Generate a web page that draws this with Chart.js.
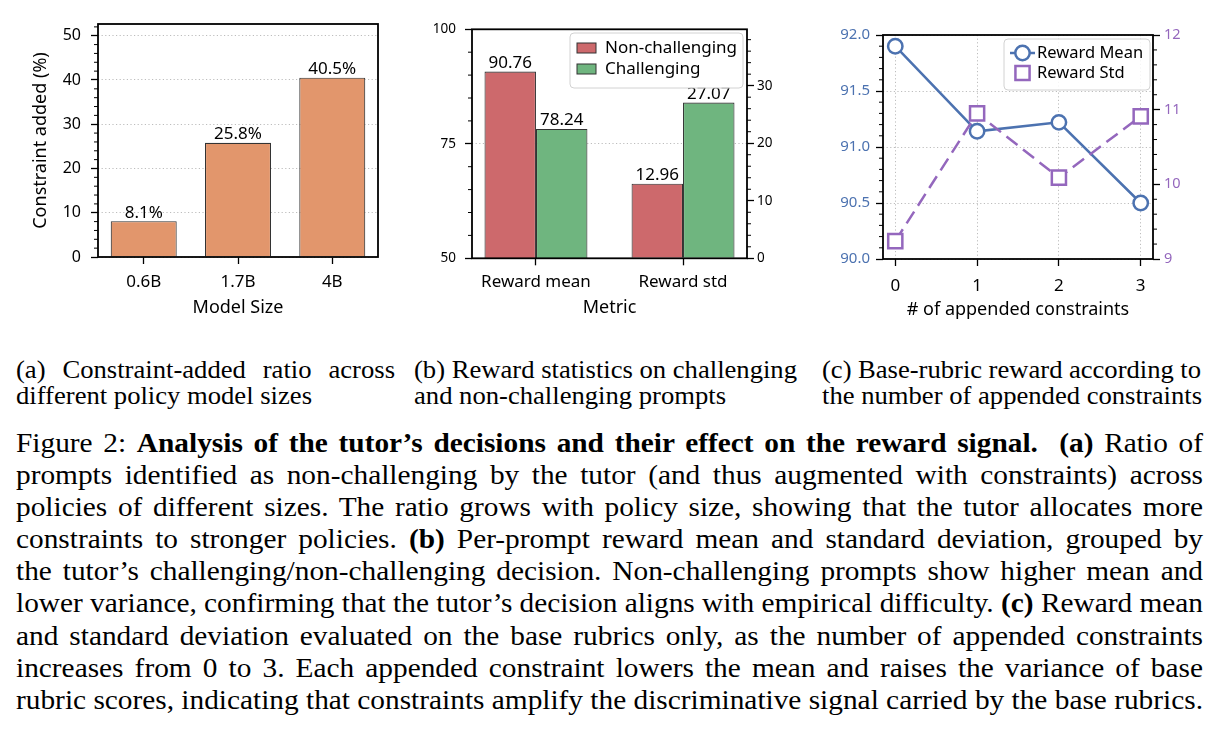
<!DOCTYPE html>
<html><head><meta charset="utf-8">
<script src="https://cdn.jsdelivr.net/npm/chart.js@4.4.1/dist/chart.umd.min.js"></script>
<style>
html,body{margin:0;padding:0;background:#fff;}
body{width:1220px;height:742px;position:relative;overflow:hidden;}
canvas{position:absolute;}
.ln{position:absolute;white-space:nowrap;font-family:"Liberation Serif","Times New Roman",serif;color:#000;line-height:1;transform-origin:0 0;}
.ln b{font-weight:bold;}
</style></head>
<body>
<canvas id="chartA" width="400" height="330" style="left:0;top:0"></canvas>
<canvas id="chartB" width="400" height="330" style="left:400px;top:0"></canvas>
<canvas id="chartC" width="420" height="330" style="left:800px;top:0"></canvas>
<div id="caps"></div>
<script>
// ---------------- data ----------------
const sizeLabels = ['0.6B', '1.7B', '4B'];
const constraintPct = [8.1, 25.8, 40.5];

const metricLabels = ['Reward mean', 'Reward std'];
const nonChallenging = [90.76, 12.96];
const challenging = [78.24, 27.07];

const appended = [0, 1, 2, 3];
const rewardMean = [91.90, 91.14, 91.22, 90.50];
const rewardStd = [9.24, 10.95, 10.09, 10.91];

// ---------------- styles ----------------
const ORANGE = '#E2966C', RED = '#CD696C', GREEN = '#6FB57F', EDGE = '#333333';
const BLUE = '#4C72B0', PURPLE = '#9467BD', GRID = '#b5b5b5';
const DOT = [1.2, 2.4];

Chart.defaults.font.family = "'Noto Sans', sans-serif";
Chart.defaults.color = '#000';

// ---------------- plugins ----------------
function makeFrame() {
  return { id: 'frame', afterDatasetsDraw(chart) {
    const { ctx, chartArea: a } = chart;
    ctx.save(); ctx.strokeStyle = '#000'; ctx.lineWidth = 1.8; ctx.setLineDash([]);
    ctx.strokeRect(a.left, a.top, a.right - a.left, a.bottom - a.top);
    ctx.restore();
  }};
}
function makeMinor(list) {
  return { id: 'minorTicks', afterDraw(chart) {
    const { ctx, chartArea: a } = chart;
    ctx.save(); ctx.strokeStyle = '#000'; ctx.lineWidth = 1; ctx.setLineDash([]);
    list.forEach(m => {
      const s = chart.scales[m.axis];
      const majors = s.ticks.map(t => t.value);
      const k0 = Math.ceil(s.min / m.step - 1e-6), k1 = Math.floor(s.max / m.step + 1e-6);
      for (let k = k0; k <= k1; k++) {
        const v = k * m.step;
        if (majors.some(t => Math.abs(t - v) < m.step * 1e-3)) continue;
        const p = s.getPixelForValue(v);
        ctx.beginPath();
        if (s.position === 'left') { ctx.moveTo(a.left, p); ctx.lineTo(a.left - 4, p); }
        else { ctx.moveTo(a.right, p); ctx.lineTo(a.right + 4, p); }
        ctx.stroke();
      }
    });
    ctx.restore();
  }};
}
function makeBarValues(decimals, suffix) {
  return { id: 'barValues', afterDatasetsDraw(chart) {
    const ctx = chart.ctx;
    ctx.save(); ctx.fillStyle = '#000'; ctx.font = "17px 'Noto Sans'";
    ctx.textAlign = 'center'; ctx.textBaseline = 'alphabetic';
    chart.data.datasets.forEach((ds, di) => {
      const meta = chart.getDatasetMeta(di);
      meta.data.forEach((el, i) => {
        const v = ds.data[i].y;
        if (v === null || v === undefined) return;
        ctx.fillText(v.toFixed(decimals) + suffix, el.x, el.y - 3.5);
      });
    });
    ctx.restore();
  }};
}
function rr(ctx, x, y, w, h, r) {
  ctx.beginPath();
  ctx.moveTo(x + r, y); ctx.lineTo(x + w - r, y); ctx.arcTo(x + w, y, x + w, y + r, r);
  ctx.lineTo(x + w, y + h - r); ctx.arcTo(x + w, y + h, x + w - r, y + h, r);
  ctx.lineTo(x + r, y + h); ctx.arcTo(x, y + h, x, y + h - r, r);
  ctx.lineTo(x, y + r); ctx.arcTo(x, y, x + r, y, r); ctx.closePath();
}
function makeLegend(o) {
  return { id: 'boxLegend', afterDraw(chart) {
    const { ctx, chartArea: a } = chart;
    const x = a.right - o.insetR - o.width, y = a.top + o.insetT;
    ctx.save(); ctx.setLineDash([]);
    rr(ctx, x, y, o.width, o.height, 4);
    ctx.fillStyle = 'rgba(255,255,255,0.85)'; ctx.fill();
    ctx.strokeStyle = '#d2d2d2'; ctx.lineWidth = 1; ctx.stroke();
    o.datasets.forEach((di, i) => {
      const ds = chart.data.datasets[di];
      const cy = y + o.firstRow + i * o.rowGap;
      if (o.kind === 'patch') {
        ctx.fillStyle = ds.backgroundColor; ctx.fillRect(x + 7, cy - 5, 19, 10);
        ctx.strokeStyle = ds.borderColor; ctx.lineWidth = 1; ctx.strokeRect(x + 7, cy - 5, 19, 10);
      } else {
        if (!ds.borderDash || ds.borderDash.length === 0) {
          ctx.strokeStyle = ds.borderColor; ctx.lineWidth = ds.borderWidth;
          ctx.beginPath(); ctx.moveTo(x + 6, cy); ctx.lineTo(x + 31, cy); ctx.stroke();
        }
        const mx = x + 18.5;
        ctx.fillStyle = '#fff'; ctx.strokeStyle = ds.pointBorderColor; ctx.lineWidth = ds.pointBorderWidth;
        ctx.beginPath();
        if (ds.pointStyle === 'rect') { const s = Math.SQRT1_2 * ds.pointRadius; ctx.rect(mx - s, cy - s, 2 * s, 2 * s); }
        else ctx.arc(mx, cy, ds.pointRadius, 0, Math.PI * 2);
        ctx.fill(); ctx.stroke();
      }
      ctx.fillStyle = '#000'; ctx.font = o.fontSize + "px 'Noto Sans'";
      ctx.textAlign = 'left'; ctx.textBaseline = 'middle';
      ctx.fillText(ds.label, x + o.textX, cy + 0.5);
    });
    ctx.restore();
  }};
}
const tickGrid = { tickLength: 7, tickColor: '#000', tickWidth: 1.3, offset: false };

// ---------------- chart (a) ----------------
new Chart(document.getElementById('chartA'), {
  type: 'bar',
  data: { datasets: [{
    label: 'Constraint added',
    data: sizeLabels.map((l, i) => ({ x: i, y: constraintPct[i] })),
    backgroundColor: ORANGE, borderColor: EDGE, borderWidth: 1.1,
    categoryPercentage: 1, barPercentage: 0.7 }] },
  options: {
    responsive: false, animation: false,
    layout: { padding: { top: 24, right: 22, left: 0, bottom: 0 } },
    plugins: { legend: { display: false }, tooltip: { enabled: false } },
    scales: {
      x: { type: 'linear', offset: false, min: -0.485, max: 2.485, afterFit: s => { s.height = 73; },
        ticks: { stepSize: 1, includeBounds: false, autoSkip: false, maxRotation: 0, padding: 7.5,
          font: { size: 17 }, callback: v => sizeLabels[v] ?? '' },
        grid: Object.assign({ drawOnChartArea: false }, tickGrid),
        border: { display: false },
        title: { display: true, text: 'Model Size', font: { size: 18 }, padding: { top: 0, bottom: 11 } } },
      y: { min: 0, max: 52.65, afterFit: s => { s.width = 98; },
        ticks: { stepSize: 10, includeBounds: false, padding: 10, font: { size: 16 } },
        grid: Object.assign({ color: GRID, lineWidth: 0.9 }, tickGrid),
        border: { display: false, dash: DOT },
        title: { display: true, text: 'Constraint added (%)', font: { size: 18 }, padding: { top: 30, bottom: 0 } } }
    }
  },
  plugins: [makeMinor([{ axis: 'y', step: 2 }]), makeFrame(), makeBarValues(1, '%')]
});

// ---------------- chart (b) ----------------
const bSeries = [
  { label: 'Non-challenging', vals: nonChallenging, color: RED },
  { label: 'Challenging', vals: challenging, color: GREEN }
];
const bDatasets = [];
metricLabels.forEach((m, mi) => {
  bSeries.forEach(s => {
    bDatasets.push({
      label: s.label,
      data: metricLabels.map((_, i) => ({ x: i, y: i === mi ? s.vals[i] : null })),
      yAxisID: mi === 0 ? 'y' : 'y2',
      backgroundColor: s.color, borderColor: EDGE, borderWidth: 1.1,
      categoryPercentage: 0.7, barPercentage: 1, skipNull: true
    });
  });
});
new Chart(document.getElementById('chartB'), {
  type: 'bar',
  data: { datasets: bDatasets },
  options: {
    responsive: false, animation: false,
    layout: { padding: { top: 29.3, right: 0, left: 0, bottom: 0 } },
    plugins: { legend: { display: false }, tooltip: { enabled: false } },
    scales: {
      x: { type: 'linear', offset: false, min: -0.435, max: 1.435, afterFit: s => { s.height = 71.7; },
        ticks: { stepSize: 1, includeBounds: false, autoSkip: false, maxRotation: 0, padding: 6.5,
          font: { size: 17 }, callback: v => metricLabels[v] ?? '' },
        grid: Object.assign({ drawOnChartArea: false }, tickGrid),
        border: { display: false },
        title: { display: true, text: 'Metric', font: { size: 18 }, padding: { top: 0, bottom: 11 } } },
      y: { position: 'left', min: 50, max: 100, afterFit: s => { s.width = 72; },
        ticks: { stepSize: 25, includeBounds: false, padding: 9, font: { size: 13.5 } },
        grid: Object.assign({ color: GRID, lineWidth: 0.9 }, tickGrid),
        border: { display: false, dash: DOT } },
      y2: { position: 'right', min: 0, max: 39.8, afterFit: s => { s.width = 53; },
        ticks: { stepSize: 10, includeBounds: false, padding: 3, font: { size: 13.5 } },
        grid: Object.assign({ drawOnChartArea: false }, tickGrid),
        border: { display: false } }
    }
  },
  plugins: [makeMinor([{ axis: 'y', step: 5 }, { axis: 'y2', step: 2 }]), makeFrame(), makeBarValues(2, ''),
    makeLegend({ kind: 'patch', datasets: [0, 1], width: 173, height: 55, insetR: 4, insetT: 3.7,
      firstRow: 15, rowGap: 21, textX: 35, fontSize: 17 })]
});

// ---------------- chart (c) ----------------
new Chart(document.getElementById('chartC'), {
  type: 'line',
  data: { datasets: [
    { label: 'Reward Mean', data: appended.map((x, i) => ({ x: x, y: rewardMean[i] })), yAxisID: 'y',
      borderColor: BLUE, borderWidth: 2.5, tension: 0, pointStyle: 'circle', pointRadius: 7.2,
      pointBackgroundColor: '#fff', pointBorderColor: BLUE, pointBorderWidth: 2.5, order: 1 },
    { label: 'Reward Std', data: appended.map((x, i) => ({ x: x, y: rewardStd[i] })), yAxisID: 'y2',
      borderColor: PURPLE, borderWidth: 2.5, borderDash: [14, 7], tension: 0, pointStyle: 'rect', pointRadius: 10,
      pointBackgroundColor: '#fff', pointBorderColor: PURPLE, pointBorderWidth: 2.5, order: 0 }
  ] },
  options: {
    responsive: false, animation: false,
    layout: { padding: { top: 35, right: 0, left: 0, bottom: 0 } },
    plugins: { legend: { display: false }, tooltip: { enabled: false } },
    scales: {
      x: { type: 'linear', offset: false, min: -0.15, max: 3.15, afterFit: s => { s.height = 71; },
        ticks: { stepSize: 1, includeBounds: false, autoSkip: false, maxRotation: 0, padding: 9.5, font: { size: 17 } },
        grid: Object.assign({ color: GRID, lineWidth: 0.9 }, tickGrid),
        border: { display: false, dash: DOT },
        title: { display: true, text: '# of appended constraints', font: { size: 18 }, padding: { top: 0, bottom: 9 } } },
      y: { position: 'left', min: 90, max: 92, afterFit: s => { s.width = 83; },
        ticks: { stepSize: 0.5, includeBounds: false, padding: 6, color: BLUE, font: { size: 15 }, callback: v => v.toFixed(1) },
        grid: Object.assign({ color: GRID, lineWidth: 0.9 }, tickGrid),
        border: { display: false, dash: DOT } },
      y2: { position: 'right', min: 9, max: 12, afterFit: s => { s.width = 67; },
        ticks: { stepSize: 1, includeBounds: false, padding: 4, color: PURPLE, font: { size: 14.5 } },
        grid: Object.assign({ drawOnChartArea: false }, tickGrid),
        border: { display: false } }
    }
  },
  plugins: [makeMinor([{ axis: 'y', step: 0.1 }, { axis: 'y2', step: 0.2 }]), makeFrame(),
    makeLegend({ kind: 'line', datasets: [0, 1], width: 146, height: 51, insetR: 3, insetT: 4,
      firstRow: 14, rowGap: 20, textX: 33, fontSize: 16.5 })]
});

// ---------------- captions ----------------
const captionBlocks = [
  { key: 'sub', left: 16, size: 25, lead: 25.5, base: 378, lines: [
    { h: '(a) Constraint-added ratio across', w: 379 },
    { h: 'different policy model sizes', ref: 296 } ] },
  { key: 'sub', left: 414, size: 25, lead: 25.5, base: 378, lines: [
    { h: '(b) Reward statistics on challenging', w: 383 },
    { h: 'and non-challenging prompts' } ] },
  { key: 'sub', left: 822, size: 25, lead: 25.5, base: 378, lines: [
    { h: '(c) Base-rubric reward according to', w: 379 },
    { h: 'the number of appended constraints' } ] },
  { key: 'main', left: 16, size: 26.5, lead: 32.12, base: 452, lines: [
    { h: 'Figure 2: <b>Analysis of the tutor’s decisions and their effect on the reward signal.</b>&nbsp; <b>(a)</b> Ratio of', w: 1187 },
    { h: 'prompts identified as non-challenging by the tutor (and thus augmented with constraints) across', w: 1187 },
    { h: 'policies of different sizes. The ratio grows with policy size, showing that the tutor allocates more', w: 1187 },
    { h: 'constraints to stronger policies. <b>(b)</b> Per-prompt reward mean and standard deviation, grouped by', w: 1187 },
    { h: 'the tutor’s challenging/non-challenging decision. Non-challenging prompts show higher mean and', w: 1187 },
    { h: 'lower variance, confirming that the tutor’s decision aligns with empirical difficulty. <b>(c)</b> Reward mean', w: 1187 },
    { h: 'and standard deviation evaluated on the base rubrics only, as the number of appended constraints', w: 1187 },
    { h: 'increases from 0 to 3. Each appended constraint lowers the mean and raises the variance of base', w: 1187 },
    { h: 'rubric scores, indicating that constraints amplify the discriminative signal carried by the base rubrics.', ref: 1187 } ] }
];

function layoutCaptions() {
  const root = document.getElementById('caps');
  root.innerHTML = '';
  const items = [];
  captionBlocks.forEach(b => {
    b.lines.forEach((ln, i) => {
      const el = document.createElement('div');
      el.className = 'ln';
      el.innerHTML = ln.h;
      el.style.fontSize = b.size + 'px';
      el.style.left = b.left + 'px';
      el.style.top = (b.base + i * b.lead - 0.8375 * b.size) + 'px';
      root.appendChild(el);
      items.push({ el, ln, b, nat: el.getBoundingClientRect().width });
    });
  });
  const scales = {};
  items.forEach(it => { if (it.ln.ref) scales[it.b.key] = it.ln.ref / it.nat; });
  items.forEach(it => {
    const sc = scales[it.b.key] || 1;
    if (it.ln.w) {
      const spaces = (it.el.textContent.match(/[ \u00a0]/g) || []).length;
      let ws = (it.ln.w / sc - it.nat) / Math.max(spaces, 1);
      if (ws < -3) ws = -3;
      it.el.style.wordSpacing = ws + 'px';
      const w2 = it.el.getBoundingClientRect().width;
      it.el.style.transform = 'scaleX(' + (it.ln.w / w2) + ')';
    } else {
      it.el.style.transform = 'scaleX(' + sc + ')';
    }
  });
}
layoutCaptions();
if (document.fonts && document.fonts.ready) document.fonts.ready.then(layoutCaptions);
</script>
</body></html>
